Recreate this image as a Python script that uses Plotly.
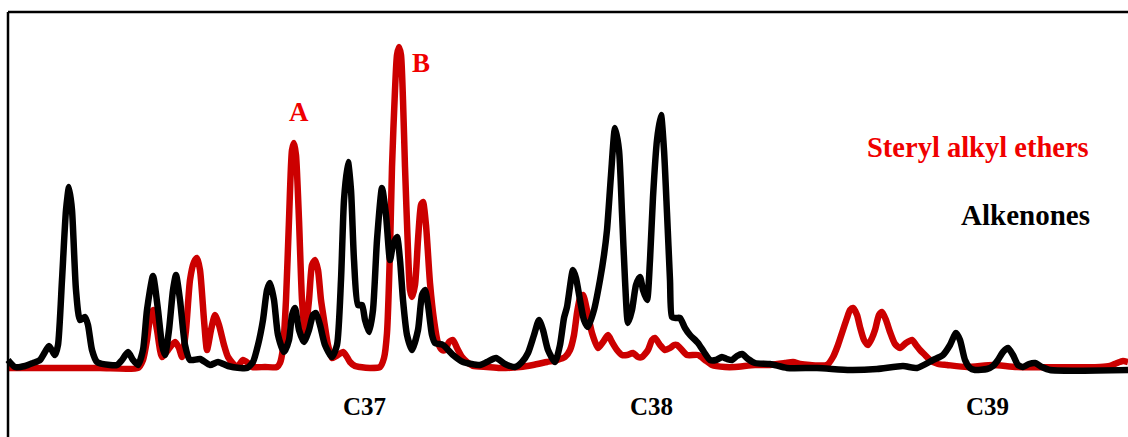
import plotly.graph_objects as go

# Retention position (arbitrary units) and detector signal for each trace
alk_x = [8, 15, 25, 33, 40, 45, 49, 55, 58, 62, 66, 69, 72, 76, 80, 85, 88, 92, 97, 110,
         117, 122, 128, 133, 138, 143, 147, 153, 158, 162, 165, 169, 173, 176, 180, 185, 190, 200, 210, 218,
         228, 240, 247, 253, 258, 263, 267, 270, 274, 278, 284, 289, 292, 295, 299, 304, 309, 313, 316, 320,
         325, 332, 337, 341, 344, 348, 351, 354, 358, 362, 365, 369, 373, 377, 382, 386, 390, 393, 397, 400,
         403, 407, 412, 418, 422, 425, 428, 432, 435, 443, 453, 463, 480, 487, 496, 505, 515, 522, 528, 534,
         539, 543, 548, 555, 560, 564, 567, 573, 576, 580, 584, 588, 594, 600, 604, 607, 611, 615, 619, 622,
         625, 628, 632, 636, 640, 643, 647, 650, 653, 657, 661, 664, 667, 670, 672, 676, 680, 685, 690, 698,
         704, 710, 716, 722, 727, 732, 737, 742, 748, 755, 770, 787, 817, 850, 877, 903, 917, 933, 943, 950,
         956, 960, 965, 970, 975, 987, 993, 998, 1003, 1008, 1013, 1018, 1023, 1029, 1035, 1042, 1050, 1128]
alk_y = [10, 3, 4, 7, 10, 18, 24, 15, 25, 90, 160, 183, 160, 80, 50, 53, 45, 20, 8, 5,
         5, 10, 18, 10, 5, 20, 60, 94, 60, 25, 15, 40, 80, 95, 70, 25, 10, 11, 5, 8,
         4, 2, 2, 8, 25, 50, 80, 87, 70, 35, 18, 30, 55, 62, 40, 28, 40, 55, 57, 45,
         25, 13, 25, 90, 170, 208, 180, 110, 65, 65, 50, 38, 60, 130, 182, 155, 110, 125, 133, 110,
         70, 35, 20, 40, 75, 80, 65, 35, 27, 25, 15, 8, 5, 8, 12, 6, 3, 8, 17, 35,
         50, 40, 20, 8, 25, 52, 63, 100, 92, 70, 50, 43, 60, 90, 115, 140, 195, 242, 220, 157,
         90, 47, 60, 85, 93, 80, 70, 110, 173, 230, 255, 220, 157, 90, 53, 52, 52, 42, 35, 27,
         18, 10, 10, 13, 11, 10, 14, 16, 11, 7, 6, 2, 2, 0, 1, 4, 2, 10, 15, 25,
         37, 30, 10, 2, 0, 1, 4, 10, 18, 22, 15, 5, 3, 6, 7, 3, 0, 0]

sae_x = [8, 50, 100, 138, 143, 147, 150, 153, 157, 162, 168, 175, 179, 182, 186, 190, 194, 197, 200, 204,
         207, 211, 215, 219, 224, 228, 237, 243, 248, 252, 265, 277, 280, 283, 286, 289, 292, 294, 296, 299,
         302, 305, 309, 312, 315, 318, 321, 324, 328, 332, 338, 343, 347, 350, 355, 360, 370, 380, 384, 387,
         390, 392, 395, 397, 399, 401, 403, 405, 408, 410, 412, 415, 418, 421, 423, 426, 430, 434, 438, 442,
         445, 449, 453, 457, 462, 467, 473, 487, 500, 520, 533, 547, 557, 565, 570, 574, 577, 580, 583, 587,
         592, 598, 603, 608, 612, 617, 622, 627, 633, 638, 642, 648, 652, 655, 660, 665, 670, 674, 677, 682,
         687, 698, 705, 712, 725, 735, 755, 770, 785, 793, 800, 810, 827, 833, 838, 842, 847, 850, 853, 857,
         860, 864, 868, 872, 875, 879, 882, 886, 890, 895, 900, 906, 912, 916, 920, 925, 930, 938, 947, 967,
         993, 1017, 1100, 1110, 1117, 1123, 1128]
sae_y = [2, 2, 2, 2, 10, 30, 52, 60, 40, 13, 20, 28, 22, 13, 40, 90, 108, 112, 100, 50,
         20, 40, 55, 45, 25, 13, 3, 10, 7, 3, 3, 3, 7, 22, 70, 150, 220, 227, 215, 150,
         70, 37, 70, 105, 110, 100, 70, 50, 25, 12, 15, 18, 13, 8, 4, 3, 2, 3, 12, 37,
         120, 203, 280, 315, 323, 315, 270, 203, 120, 80, 73, 85, 130, 165, 168, 145, 87, 50, 27, 20,
         20, 28, 30, 22, 13, 8, 4, 3, 2, 3, 5, 8, 10, 13, 20, 35, 57, 72, 75, 60,
         37, 22, 28, 35, 28, 20, 15, 15, 17, 13, 13, 20, 30, 32, 25, 20, 22, 25, 25, 20,
         15, 15, 10, 5, 3, 3, 5, 5, 7, 8, 6, 5, 5, 13, 25, 37, 52, 60, 62, 55,
         43, 30, 25, 32, 40, 55, 58, 50, 38, 26, 22, 27, 30, 25, 20, 15, 10, 6, 5, 3,
         5, 3, 3, 4, 7, 9, 8]

series_names = ["Steryl alkyl ethers", "Alkenones"]
peak_labels = ["A", "B"]
peak_pos = [299, 421]
peak_lab_y = [258, 307]
group_labels = ["C37", "C38", "C39"]
group_pos = [364, 651, 987]

RED_LINE = "#CC0000"
RED_TEXT = "#F00000"
FONT = "Liberation Serif"

fig = go.Figure()
fig.add_trace(go.Scatter(x=sae_x, y=sae_y, mode="lines", name=series_names[0],
                         line=dict(color=RED_LINE, width=6.5, shape="spline", smoothing=0.6),
                         hoverinfo="skip"))
fig.add_trace(go.Scatter(x=alk_x, y=alk_y, mode="lines", name=series_names[1],
                         line=dict(color="#000000", width=6.5, shape="spline", smoothing=0.6),
                         hoverinfo="skip"))

ann = []
for lab, px, py in zip(peak_labels, peak_pos, peak_lab_y):
    ann.append(dict(x=px, y=py, text="<b>%s</b>" % lab, showarrow=False,
                    font=dict(family=FONT, size=27, color=RED_TEXT), xanchor="center", yanchor="middle"))
for lab, px in zip(group_labels, group_pos):
    ann.append(dict(x=px, y=-36, text="<b>%s</b>" % lab, showarrow=False,
                    font=dict(family=FONT, size=25, color="#000000"), xanchor="center", yanchor="middle"))
ann.append(dict(x=1091, y=223, text="<b>%s</b>" % series_names[0], showarrow=False,
                font=dict(family=FONT, size=28.5, color=RED_TEXT), xanchor="right", yanchor="middle"))
ann.append(dict(x=1092, y=155, text="<b>%s</b>" % series_names[1], showarrow=False,
                font=dict(family=FONT, size=29, color="#000000"), xanchor="right", yanchor="middle"))

shapes = [
    dict(type="line", xref="x", yref="y", x0=8, x1=1140, y0=358, y1=358, line=dict(color="black", width=2.5)),
    dict(type="line", xref="x", yref="y", x0=8, x1=8, y0=358, y1=-80, line=dict(color="black", width=2.5)),
]

fig.update_layout(
    width=1128, height=437,
    margin=dict(l=0, r=0, t=0, b=0),
    paper_bgcolor="white", plot_bgcolor="white",
    showlegend=False,
    xaxis=dict(range=[0, 1128], visible=False, fixedrange=True),
    yaxis=dict(range=[-67, 370], visible=False, fixedrange=True),
    annotations=ann, shapes=shapes,
)

fig.write_html("out.html", config={"displayModeBar": False})
